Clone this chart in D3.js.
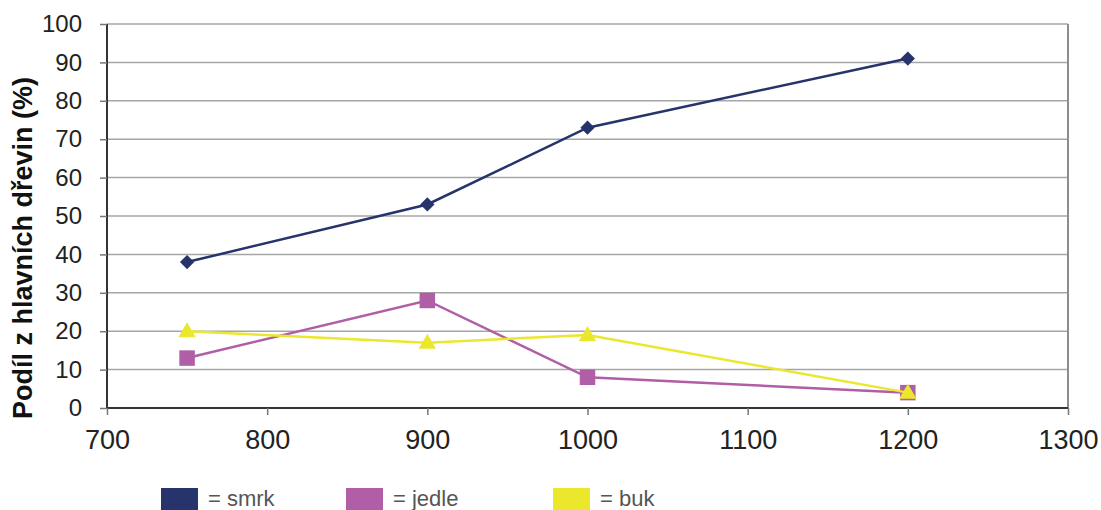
<!DOCTYPE html>
<html>
<head>
<meta charset="utf-8">
<script src="https://cdn.jsdelivr.net/npm/d3@7"></script>
<style>
  html, body { margin: 0; padding: 0; background: #fff; }
  svg { display: block; }
</style>
</head>
<body>
<svg id="chart" width="1101" height="510"></svg>
<script>
// Nadmořská výška (m) a podíl hlavních dřevin (%)
const altitudes = [750, 900, 1000, 1200];
const smrk = [38, 53, 73, 91];
const jedle = [13, 28, 8, 4];
const buk = [20, 17, 19, 4];
const xTicks = [700, 800, 900, 1000, 1100, 1200, 1300];
const yTicks = [0, 10, 20, 30, 40, 50, 60, 70, 80, 90, 100];
const seriesNames = ["smrk", "jedle", "buk"];
const seriesColors = ["#27336b", "#b05ea5", "#ebe72d"];
const yTitle = "Podíl z hlavních dřevin (%)";

const svg = d3.select("#chart");
const plotL = 107, plotR = 1068, plotT = 24, plotB = 408;
const font = "Liberation Sans, Arial, sans-serif";

const x = d3.scaleLinear().domain([700, 1300]).range([plotL, plotR]);
const y = d3.scaleLinear().domain([0, 100]).range([plotB, plotT]);

// mřížka
svg.append("g").selectAll("line").data(yTicks.filter(d => d > 0)).join("line")
  .attr("x1", plotL).attr("x2", plotR)
  .attr("y1", d => y(d)).attr("y2", d => y(d))
  .attr("stroke", "#a6a6a6").attr("stroke-width", 1.5);

// pravý okraj
svg.append("line").attr("x1", plotR).attr("x2", plotR).attr("y1", plotT).attr("y2", plotB)
  .attr("stroke", "#8c8c8c").attr("stroke-width", 2);

// osa y
const yAxis = svg.append("g").attr("transform", `translate(${plotL},0)`)
  .call(d3.axisLeft(y).tickValues(yTicks).tickSize(7).tickPadding(18));
yAxis.select(".domain").attr("stroke", "#333").attr("stroke-width", 2).attr("d", `M0,${plotT}V${plotB}`);
yAxis.selectAll(".tick line").attr("stroke", "#777").attr("stroke-width", 1.5);
yAxis.selectAll("text").attr("font-family", font)
  .attr("font-size", 24).attr("fill", "#222");

// osa x
const xAxis = svg.append("g").attr("transform", `translate(0,${plotB})`)
  .call(d3.axisBottom(x).tickValues(xTicks).tickFormat(d3.format("d")).tickSize(7).tickPadding(15));
xAxis.select(".domain").attr("stroke", "#333").attr("stroke-width", 2).attr("d", `M${plotL},0H${plotR}`);
xAxis.selectAll(".tick line").attr("stroke", "#777").attr("stroke-width", 1.5);
xAxis.selectAll("text").attr("font-family", font)
  .attr("font-size", 27).attr("fill", "#222");

// název osy y
svg.append("text")
  .attr("transform", `translate(32,248) rotate(-90)`)
  .attr("text-anchor", "middle")
  .attr("font-family", font)
  .attr("font-weight", "bold").attr("font-size", 27).attr("fill", "#111")
  .text(yTitle);

const line = d3.line().x((d, i) => x(altitudes[i])).y(d => y(d));
const data = [smrk, jedle, buk];
const symbols = [d3.symbolDiamond2, d3.symbolSquare, d3.symbolTriangle];
const symSizes = [130, 240, 130];

// řady v pořadí: jedle, buk nahoře, smrk
[1, 2, 0].forEach(k => {
  const g = svg.append("g");
  g.append("path").datum(data[k]).attr("d", line)
    .attr("fill", "none").attr("stroke", seriesColors[k]).attr("stroke-width", 2.5);
  g.selectAll("path.m").data(data[k]).join("path").attr("class", "m")
    .attr("transform", (d, i) => `translate(${x(altitudes[i])},${y(d) + (k === 2 ? 1 : 0)})`)
    .attr("d", d3.symbol().type(symbols[k]).size(symSizes[k]))
    .attr("fill", seriesColors[k]);
});

// legenda
const legendX = [161, 346, 553];
seriesNames.forEach((name, k) => {
  svg.append("rect").attr("x", legendX[k]).attr("y", 488).attr("width", 37).attr("height", 24)
    .attr("fill", seriesColors[k]);
  svg.append("text").attr("x", legendX[k] + 47).attr("y", 506)
    .attr("font-family", font)
    .attr("font-size", 22).attr("fill", "#555")
    .text("= " + name);
});
</script>
</body>
</html>
